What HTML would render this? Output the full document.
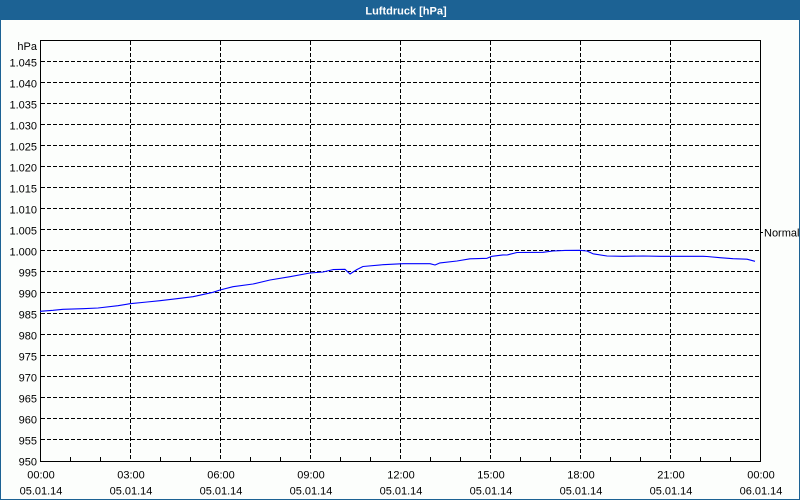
<!DOCTYPE html>
<html>
<head>
<meta charset="utf-8">
<style>
  html, body { margin: 0; padding: 0; background: #ffffff; }
  svg { display: block; }
  text { font-family: "Liberation Sans", "DejaVu Sans", sans-serif; font-size: 11px; fill: #000; }
</style>
</head>
<body>
<svg width="800" height="500" viewBox="0 0 800 500" xmlns="http://www.w3.org/2000/svg">
  <rect x="0" y="0" width="800" height="500" fill="#fcfefc"/>
  <!-- title bar -->
  <rect x="0" y="0" width="800" height="20" fill="#1c6294"/>
  <text x="406" y="14.5" text-anchor="middle" style="font-weight:bold;fill:#ffffff;font-size:11px">Luftdruck [hPa]</text>
  <!-- outer border -->
  <rect x="0.5" y="0.5" width="799" height="499" fill="none" stroke="#1c6294" stroke-width="1"/>

  <!-- horizontal grid -->
  <g stroke="#000" stroke-width="1" stroke-dasharray="4 2" shape-rendering="crispEdges">
    <line x1="41" y1="61.5" x2="760" y2="61.5"/>
    <line x1="41" y1="82.5" x2="760" y2="82.5"/>
    <line x1="41" y1="103.5" x2="760" y2="103.5"/>
    <line x1="41" y1="124.5" x2="760" y2="124.5"/>
    <line x1="41" y1="145.5" x2="760" y2="145.5"/>
    <line x1="41" y1="166.5" x2="760" y2="166.5"/>
    <line x1="41" y1="187.5" x2="760" y2="187.5"/>
    <line x1="41" y1="208.5" x2="760" y2="208.5"/>
    <line x1="41" y1="229.5" x2="760" y2="229.5"/>
    <line x1="41" y1="250.5" x2="760" y2="250.5"/>
    <line x1="41" y1="271.5" x2="760" y2="271.5"/>
    <line x1="41" y1="292.5" x2="760" y2="292.5"/>
    <line x1="41" y1="313.5" x2="760" y2="313.5"/>
    <line x1="41" y1="334.5" x2="760" y2="334.5"/>
    <line x1="41" y1="355.5" x2="760" y2="355.5"/>
    <line x1="41" y1="376.5" x2="760" y2="376.5"/>
    <line x1="41" y1="397.5" x2="760" y2="397.5"/>
    <line x1="41" y1="418.5" x2="760" y2="418.5"/>
    <line x1="41" y1="439.5" x2="760" y2="439.5"/>
  </g>
  <!-- vertical grid -->
  <g stroke="#000" stroke-width="1" stroke-dasharray="4 2" shape-rendering="crispEdges">
    <line x1="130.5" y1="41" x2="130.5" y2="461"/>
    <line x1="220.5" y1="41" x2="220.5" y2="461"/>
    <line x1="310.5" y1="41" x2="310.5" y2="461"/>
    <line x1="400.5" y1="41" x2="400.5" y2="461"/>
    <line x1="490.5" y1="41" x2="490.5" y2="461"/>
    <line x1="580.5" y1="41" x2="580.5" y2="461"/>
    <line x1="670.5" y1="41" x2="670.5" y2="461"/>
  </g>
  <!-- minor ticks -->
  <g stroke="#000" stroke-width="1" shape-rendering="crispEdges">
    <line x1="70.5" y1="457" x2="70.5" y2="461"/>
    <line x1="100.5" y1="457" x2="100.5" y2="461"/>
    <line x1="160.5" y1="457" x2="160.5" y2="461"/>
    <line x1="190.5" y1="457" x2="190.5" y2="461"/>
    <line x1="250.5" y1="457" x2="250.5" y2="461"/>
    <line x1="280.5" y1="457" x2="280.5" y2="461"/>
    <line x1="340.5" y1="457" x2="340.5" y2="461"/>
    <line x1="370.5" y1="457" x2="370.5" y2="461"/>
    <line x1="430.5" y1="457" x2="430.5" y2="461"/>
    <line x1="460.5" y1="457" x2="460.5" y2="461"/>
    <line x1="520.5" y1="457" x2="520.5" y2="461"/>
    <line x1="550.5" y1="457" x2="550.5" y2="461"/>
    <line x1="610.5" y1="457" x2="610.5" y2="461"/>
    <line x1="640.5" y1="457" x2="640.5" y2="461"/>
    <line x1="700.5" y1="457" x2="700.5" y2="461"/>
    <line x1="730.5" y1="457" x2="730.5" y2="461"/>
    <!-- Normal tick -->
    <line x1="760" y1="232.5" x2="763" y2="232.5"/>
  </g>
  <!-- frame -->
  <rect x="40.5" y="40.5" width="720" height="421" fill="none" stroke="#000" stroke-width="1.2" shape-rendering="crispEdges"/>

  <!-- series -->
  <polyline fill="none" stroke="#0000ff" stroke-width="1.1" stroke-linejoin="round"
    points="40,311.3 53,310.3 63,309.3 83,308.7 98,308 118,305.7 130,303.7 147,302 160,300.7 180,298.3 193,296.7 213,292.3 220,290 233,286.7 253,284 270,280 290,276.7 310,273 323,272 333,269.6 345,269.3 350,274 357,269.5 363,266.5 383,264.7 403,263.7 430,263.7 435,265 440,262.9 457,261 470,258.8 487,258.3 492,256.3 503,254.9 507,255 517,252.5 543,252.3 553,251 565,250.4 580,250.3 587,251 593,253.8 607,256 623,256.3 643,256 660,256.3 703,256.3 707,256.5 720,257.7 733,258.7 747,259.2 755,261.3"/>

  <!-- y labels -->
  <g text-anchor="end">
    <text x="37" y="50">hPa</text>
    <text x="37" y="66.5">1.045</text>
    <text x="37" y="87.5">1.040</text>
    <text x="37" y="108.5">1.035</text>
    <text x="37" y="129.5">1.030</text>
    <text x="37" y="150.5">1.025</text>
    <text x="37" y="171.5">1.020</text>
    <text x="37" y="192.5">1.015</text>
    <text x="37" y="213.5">1.010</text>
    <text x="37" y="234.5">1.005</text>
    <text x="37" y="255.5">1.000</text>
    <text x="37" y="276.5">995</text>
    <text x="37" y="297.5">990</text>
    <text x="37" y="318.5">985</text>
    <text x="37" y="339.5">980</text>
    <text x="37" y="360.5">975</text>
    <text x="37" y="381.5">970</text>
    <text x="37" y="402.5">965</text>
    <text x="37" y="423.5">960</text>
    <text x="37" y="444.5">955</text>
    <text x="37" y="465.5">950</text>
  </g>

  <!-- x labels -->
  <g text-anchor="middle">
    <text x="41" y="478.5">00:00</text>
    <text x="41" y="494.5">05.01.14</text>
    <text x="131" y="478.5">03:00</text>
    <text x="131" y="494.5">05.01.14</text>
    <text x="221" y="478.5">06:00</text>
    <text x="221" y="494.5">05.01.14</text>
    <text x="311" y="478.5">09:00</text>
    <text x="311" y="494.5">05.01.14</text>
    <text x="401" y="478.5">12:00</text>
    <text x="401" y="494.5">05.01.14</text>
    <text x="491" y="478.5">15:00</text>
    <text x="491" y="494.5">05.01.14</text>
    <text x="581" y="478.5">18:00</text>
    <text x="581" y="494.5">05.01.14</text>
    <text x="671" y="478.5">21:00</text>
    <text x="671" y="494.5">05.01.14</text>
    <text x="761" y="478.5">00:00</text>
    <text x="761" y="494.5">06.01.14</text>
  </g>

  <text x="764" y="236.5">Normal</text>
</svg>
</body>
</html>
